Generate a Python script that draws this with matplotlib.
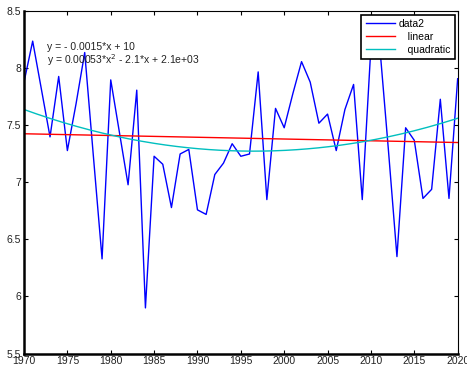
import numpy as np
import matplotlib
matplotlib.use('Agg')
import matplotlib.pyplot as plt

plt.rcParams['font.family'] = ['Liberation Sans', 'DejaVu Sans']

# yearly series
years = np.arange(1970, 2021)
values = [7.88, 8.24, 7.82, 7.40, 7.93, 7.28, 7.69, 8.14, 7.23, 6.33,
          7.90, 7.44, 6.98, 7.81, 5.90, 7.23, 7.16, 6.78, 7.25, 7.29,
          6.76, 6.72, 7.07, 7.17, 7.34, 7.23, 7.25, 7.97, 6.85, 7.65,
          7.48, 7.78, 8.06, 7.88, 7.52, 7.60, 7.28, 7.64, 7.86, 6.85,
          8.19, 8.21, 7.30, 6.35, 7.48, 7.37, 6.86, 6.94, 7.73, 6.86,
          7.91]

eq_labels = ['y = - 0.0015*x + 10',
             'y = 0.00053*x$^2$ - 2.1*x + 2.1e+03']
legend_labels = ['data2', '   linear', '   quadratic']

# basic polynomial fits
p1 = np.polyfit(years, values, 1)
p2 = np.polyfit(years, values, 2)
xfit = np.linspace(1970, 2020, 200)

fig = plt.figure(figsize=(4.67, 3.68), dpi=100)
ax = fig.add_axes([0.0514, 0.0394, 0.9286, 0.9294])

ax.plot(years, values, color='#0000ff', lw=1.0)
ax.plot(xfit, np.polyval(p1, xfit), color='#ff0000', lw=1.0)
ax.plot(xfit, np.polyval(p2, xfit), color='#00bfbf', lw=1.0)

ax.set_xlim(1970, 2020)
ax.set_ylim(5.5, 8.5)
ax.set_xticks(np.arange(1970, 2021, 5))
ax.set_yticks(np.arange(5.5, 8.51, 0.5))
ax.set_yticklabels(['5.5', '6', '6.5', '7', '7.5', '8', '8.5'])

ax.tick_params(direction='in', length=3, width=0.8, top=True, right=True,
               labelsize=7.5, labelcolor='#222222', pad=2)
for side in ['left', 'bottom']:
    ax.spines[side].set_linewidth(1.8)
for side in ['top', 'right']:
    ax.spines[side].set_linewidth(0.8)

ax.text(1972.6, 8.16, eq_labels[0], fontsize=7.5, color='#222222')
ax.text(1972.6, 8.04, eq_labels[1], fontsize=7.5, color='#222222')

leg = ax.legend(legend_labels, loc='upper right', fontsize=7.5,
                fancybox=False, framealpha=1, edgecolor='black',
                borderaxespad=0.3, handlelength=2.8, labelspacing=0.3,
                borderpad=0.4, handletextpad=0.4)
leg.get_frame().set_linewidth(1.2)

fig.savefig('out.png', dpi=100)
